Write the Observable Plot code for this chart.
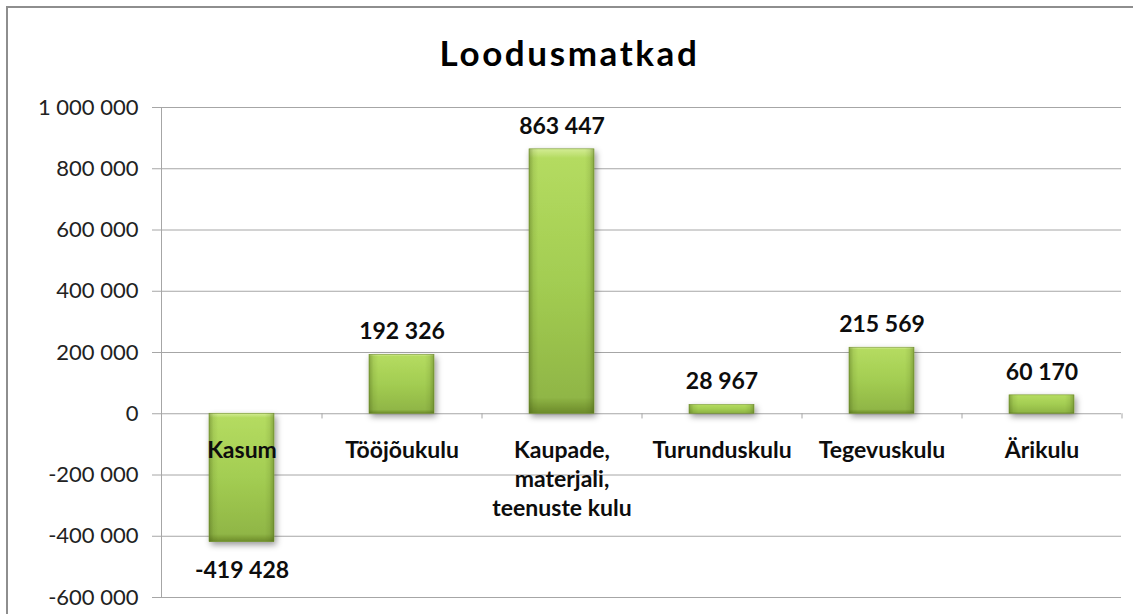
<!DOCTYPE html>
<html><head><meta charset="utf-8">
<script src="https://cdn.jsdelivr.net/npm/d3@7"></script>
<script src="https://cdn.jsdelivr.net/npm/@observablehq/plot@0.6"></script>
<style>
body{margin:0;background:#fff;font-family:Lato,"Open Sans",sans-serif;overflow:hidden;}
#frame{position:absolute;left:6px;top:6px;width:1125px;height:640px;border-left:2px solid #8e8e8e;border-top:2px solid #8e8e8e;}
#title{position:absolute;left:0;top:27px;width:1139px;height:50px;line-height:50px;text-align:center;font-weight:bold;font-size:35px;letter-spacing:2.6px;color:#000;font-family:Lato,sans-serif;}
#chart{position:absolute;left:0;top:88px;}
</style></head>
<body>
<div id="frame"></div>
<div id="title">Loodusmatkad</div>
<div id="chart"></div>
<script>
const categories = ["Kasum","Tööjõukulu","Kaupade, materjali, teenuste kulu","Turunduskulu","Tegevuskulu","Ärikulu"];
const categoryLabels = ["Kasum","Tööjõukulu","Kaupade,\nmaterjali,\nteenuste kulu","Turunduskulu","Tegevuskulu","Ärikulu"];
const values = [-419428,192326,863447,28967,215569,60170];
const yTicks = [-600000,-400000,-200000,0,200000,400000,600000,800000,1000000];

const locale = d3.formatLocale({decimal:",", thousands:"\u00a0", grouping:[3], currency:["",""], minus:"-"});
const fmt = locale.format(",d");
const data = categories.map((c,i)=>({cat:c, label:categoryLabels[i], value:values[i]}));
const grid = "#a6a6a6";
const ink = "#0d0d0d";

const chart = Plot.plot({
  width:1139, height:526,
  marginLeft:161, marginRight:18, marginTop:19, marginBottom:17,
  style:{fontFamily:"Lato, 'Open Sans', sans-serif", background:"transparent"},
  x:{domain:categories, paddingInner:0.594, paddingOuter:0.297, axis:null},
  y:{domain:[-600000,1000000], axis:null},
  marks:[
    Plot.gridY(yTicks,{stroke:grid, strokeOpacity:1, strokeWidth:1}),
    Plot.axisY(yTicks,{tickFormat:fmt, tickSize:9, tickPadding:14, stroke:grid, fill:"#222", fontSize:22, label:null}),
    Plot.frame({anchor:"left", stroke:grid}),
    Plot.ruleX(categories,{x:d=>d, dx:80, y1:0, y2:-17000, stroke:grid}),
    Plot.barY(data,{x:"cat", y:"value", fill:"url(#gv)", stroke:"#76962f", strokeWidth:0.6}),
    Plot.barY(data,{x:"cat", y:"value", fill:"url(#gh)"}),
    Plot.text(data.filter(d=>d.value>=0),{x:"cat", y:"value", text:d=>fmt(d.value), dy:-23, fontSize:23, fontWeight:"bold", fill:ink}),
    Plot.text(data.filter(d=>d.value<0),{x:"cat", y:"value", text:d=>fmt(d.value), dy:28, fontSize:23, fontWeight:"bold", fill:ink}),
    Plot.text(data,{x:"cat", y:()=>0, text:"label", lineAnchor:"top", dy:24, lineHeight:1.26, fontSize:23, fontWeight:"bold", fill:ink})
  ]
});
const svg = d3.select(chart);
const defs = svg.insert("defs",":first-child");
const gv = defs.append("linearGradient").attr("id","gv").attr("x1",0).attr("y1",0).attr("x2",0).attr("y2",1);
[[0,"#d3ec94"],[0.035,"#b4db60"],[0.5,"#a3cd52"],[0.94,"#90b646"],[1,"#6c8b2a"]].forEach(([o,c])=>gv.append("stop").attr("offset",o).attr("stop-color",c));
const gh = defs.append("linearGradient").attr("id","gh").attr("x1",0).attr("y1",0).attr("x2",1).attr("y2",0);
[[0,0.38],[0.07,0.1],[0.14,0],[0.86,0],[0.93,0.1],[1,0.38]].forEach(([o,a])=>gh.append("stop").attr("offset",o).attr("stop-color","#3d5210").attr("stop-opacity",a));
const f = defs.append("filter").attr("id","sh").attr("x","-20%").attr("y","-20%").attr("width","150%").attr("height","150%");
f.append("feDropShadow").attr("dx",2).attr("dy",3).attr("stdDeviation",3).attr("flood-color","#000").attr("flood-opacity",0.4);
svg.selectAll("g[aria-label='bar']").filter((d,i)=>i===0).attr("filter","url(#sh)");
document.getElementById("chart").appendChild(chart);
</script>
</body></html>
